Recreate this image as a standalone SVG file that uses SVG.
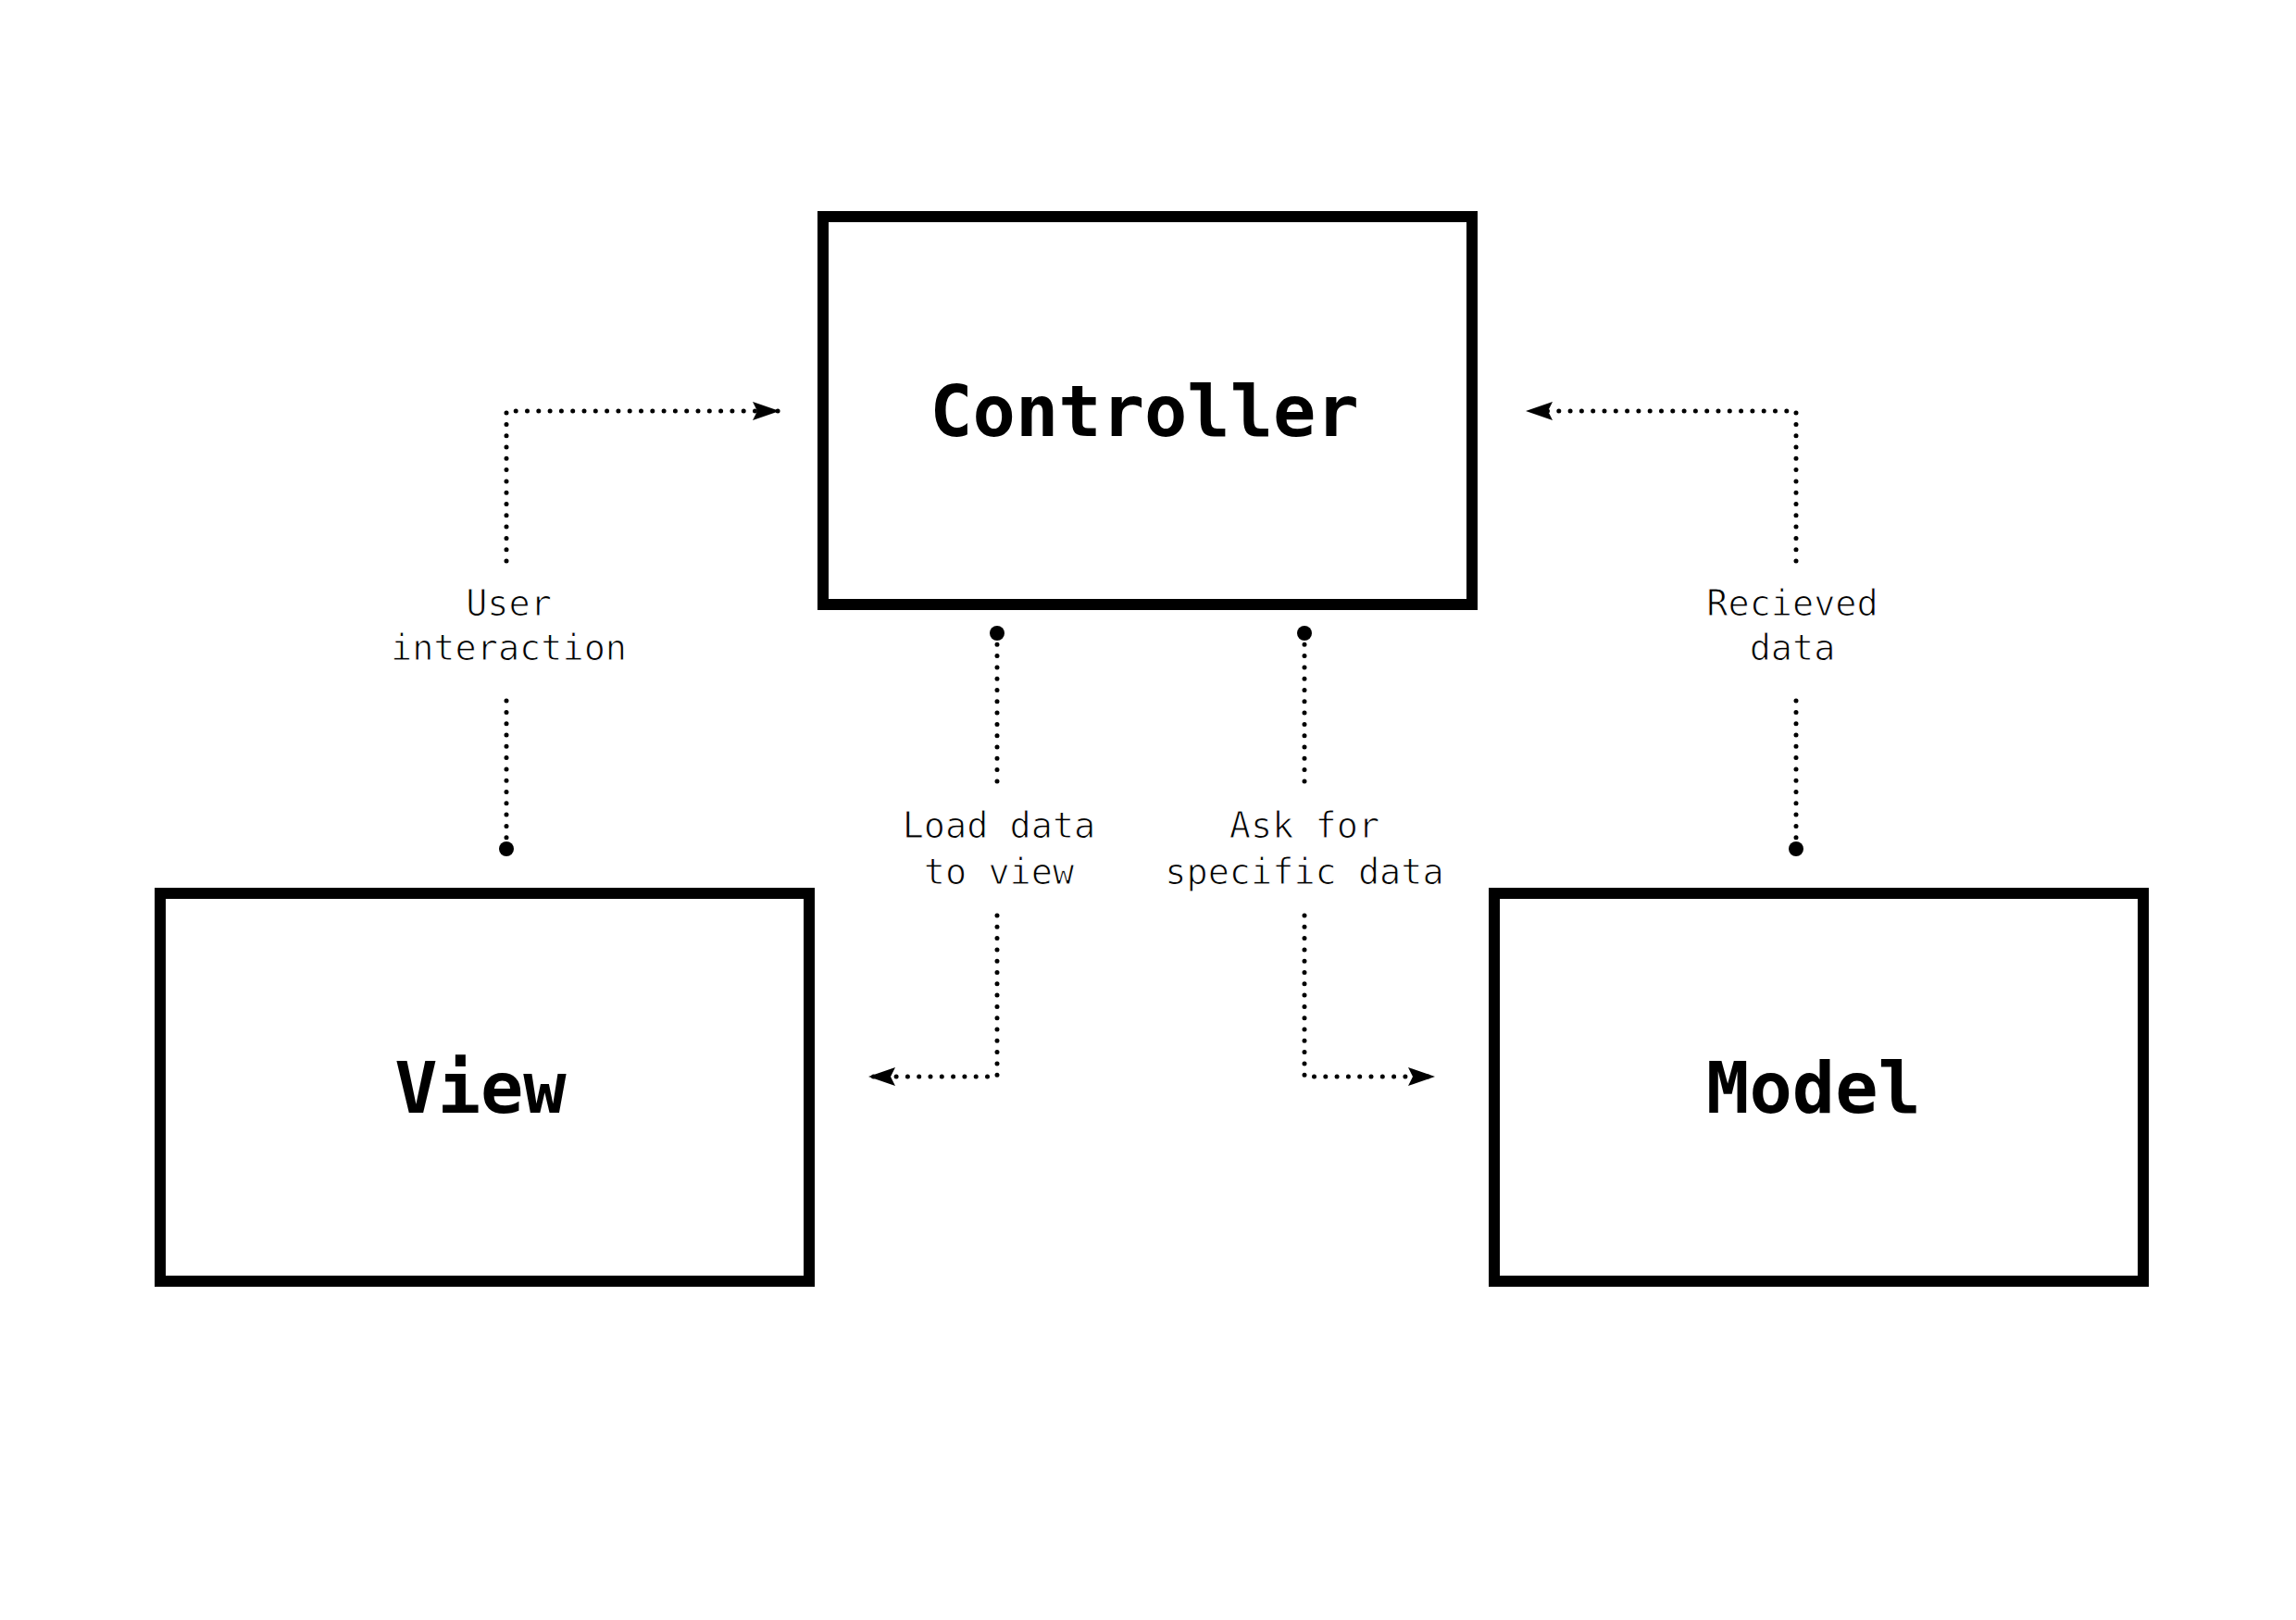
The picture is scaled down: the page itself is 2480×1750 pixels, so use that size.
<svg xmlns="http://www.w3.org/2000/svg" width="2480" height="1750" viewBox="0 0 2480 1750">
<style>
.box{fill:none;stroke:#000;stroke-width:12}
.title{font-family:"DejaVu Sans Mono",monospace;font-weight:bold;font-size:77px;text-anchor:middle;fill:#000}
.lbl{font-family:"DejaVu Sans Mono",monospace;font-size:38.5px;text-anchor:middle;fill:#000;stroke:#fff;stroke-width:1}
.conn{fill:none;stroke:#000;stroke-width:5;stroke-linecap:round;stroke-dasharray:0 12.3;marker-start:url(#dot);marker-end:url(#arrow)}
</style>
<defs>
<marker id="dot" markerUnits="userSpaceOnUse" markerWidth="20" markerHeight="20" refX="10" refY="10" orient="auto">
<circle cx="10" cy="10" r="8" fill="#000"/>
</marker>
<marker id="arrow" markerUnits="userSpaceOnUse" markerWidth="32" markerHeight="24" refX="30" refY="11" orient="auto">
<path d="M1,1 L30,11 L1,21 L6,11 Z" fill="#000"/>
</marker>
</defs>
<rect width="2480" height="1750" fill="#fff"/>
<g id="connectors">
<path class="conn" d="M547,917 V755 M547,606 V444 H842"/>
<path class="conn" d="M1077,684 V847 M1077,989 V1163 H938"/>
<path class="conn" d="M1409,684 V847 M1409,989 V1163 H1550"/>
<path class="conn" d="M1940,917 V755 M1940,606 V444 H1648"/>
</g>
<g id="labels">
<text class="lbl" x="549.5" y="665">User</text>
<text class="lbl" x="549.5" y="713">interaction</text>
<text class="lbl" x="1079" y="905">Load data</text>
<text class="lbl" x="1079" y="955">to view</text>
<text class="lbl" x="1409" y="905">Ask for</text>
<text class="lbl" x="1409" y="955">specific data</text>
<text class="lbl" x="1936" y="665">Recieved</text>
<text class="lbl" x="1936" y="713">data</text>
</g>
<g id="controller">
<rect class="box" x="889" y="234" width="701" height="419"/>
<text class="title" x="1236" y="471">Controller</text>
</g>
<g id="view">
<rect class="box" x="173" y="965" width="701" height="419"/>
<text class="title" x="519" y="1202">View</text>
</g>
<g id="model">
<rect class="box" x="1614" y="965" width="701" height="419"/>
<text class="title" x="1959" y="1202">Model</text>
</g>
</svg>
